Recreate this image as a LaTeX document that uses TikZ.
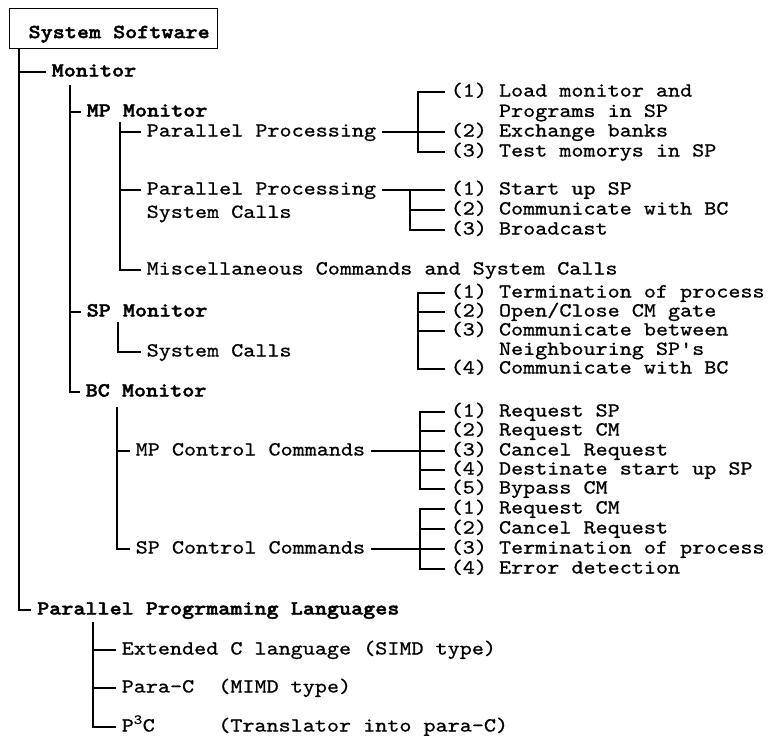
\documentclass[tikz,border=0pt]{standalone}
\usepackage{fontspec}
\setmonofont{lmmono10-regular}[Extension=.otf, BoldFont=lmmonolt10-bold, FakeStretch=1.15, UprightFeatures={FakeBold=0.8}, BoldFeatures={FakeBold=2}]
\usetikzlibrary{positioning}

\begin{document}
\begin{tikzpicture}[x=1pt, y=-1pt]
\tikzstyle{txt}=[anchor=west, inner xsep=6pt, inner ysep=0pt, text height=9pt, text depth=0pt, font=\ttfamily\fontsize{20}{20}\selectfont]
\tikzstyle{head}=[txt, font=\ttfamily\bfseries\fontsize{20}{20}\selectfont]
\tikzstyle{box}=[rectangle, draw=black, line width=1.3pt, inner sep=0pt, minimum width=208pt, text height=29.5pt, text depth=10.5pt, font=\ttfamily\bfseries\fontsize{20}{20}\selectfont]
\tikzstyle{line}=[line width=1.4pt]

\useasboundingbox (0,0) rectangle (771,736);

% 1. Tree nodes
%%%%%%%%%%%%%%%
\node[box, anchor=north west] (sys) at (9,8) {\hspace*{11pt}System Software};
\node[head] (mon) at (45.5,72) {Monitor};
\node[head] (mpm) at (80.5,112) {MP Monitor};
\node[txt] (pp) at (140.5,132) {Parallel Processing};
\node[txt] (ppsc) at (140.5,190) {Parallel Processing};
\node[txt] (ppsc2) [below=14pt of ppsc.south west, anchor=north west] {System Calls};
\node[txt] (misc) at (140.5,270) {Miscellaneous Commands and System Calls};
\node[head] (spm) at (80.5,312) {SP Monitor};
\node[txt] (spsc) at (140.5,352) {System Calls};
\node[head] (bcm) at (79.5,392) {BC Monitor};
\node[txt] (mpcc) at (129.5,451) {MP Control Commands};
\node[txt] (spcc) at (129.5,549) {SP Control Commands};
\node[head] (ppl) at (31,610) {Parallel Progrmaming Languages};
\node[txt] (ext) at (115.5,650) {Extended C language (SIMD type)};
\node[txt] (parac) at (115.5,688) {Para-C~~(MIMD type)};
\node[txt] (p3c) at (115.5,727) {\rlap{P\textsuperscript{3}C}\phantom{Para-C~~}(Translator into para-C)};

% 2. Item lists
%%%%%%%%%%%%%%%
\node[txt] (a1) at (444.5,92) {(1) Load monitor and};
\node[txt] (a1b) [below=11pt of a1.south west, anchor=north west] {\phantom{(1)~}Programs in SP};
\node[txt] (a2) at (444.5,132) {(2) Exchange banks};
\node[txt] (a3) at (444.5,152) {(3) Test momorys in SP};

\node[txt] (b1) at (444.5,190) {(1) Start up SP};
\node[txt] (b2) at (444.5,210) {(2) Communicate with BC};
\node[txt] (b3) at (444.5,230) {(3) Broadcast};

\node[txt] (c1) at (444.5,293) {(1) Termination of process};
\node[txt] (c2) at (444.5,312) {(2) Open/Close CM gate};
\node[txt] (c3) at (444.5,331) {(3) Communicate between};
\node[txt] (c3b) [below=10pt of c3.south west, anchor=north west] {\phantom{(3)~}Neighbouring SP's};
\node[txt] (c4) at (444.5,369) {(4) Communicate with BC};

\node[txt] (d1) at (444.5,412) {(1) Request SP};
\node[txt] (d2) at (444.5,431) {(2) Request CM};
\node[txt] (d3) at (444.5,451) {(3) Cancel Request};
\node[txt] (d4) at (444.5,470) {(4) Destinate start up SP};
\node[txt] (d5) at (444.5,489) {(5) Bypass CM};

\node[txt] (e1) at (444.5,509) {(1) Request CM};
\node[txt] (e2) at (444.5,529) {(2) Cancel Request};
\node[txt] (e3) at (444.5,549) {(3) Termination of process};
\node[txt] (e4) at (444.5,569) {(4) Error detection};

% 3. Rails
%%%%%%%%%%
\coordinate (rail0) at ([xshift=10pt]sys.south west);
\coordinate (rail1) at (70,85);
\coordinate (rail2) at (120,122);
\coordinate (rail3) at (118,322);
\coordinate (rail4) at (117,407);
\coordinate (rail5) at (93,622);
\coordinate (ba) at (418,0);
\coordinate (bb) at (410,0);
\coordinate (bc) at (418,0);
\coordinate (bd) at (420,0);
\coordinate (be) at (420,0);

% 4. Tree lines
%%%%%%%%%%%%%%%
\draw[line] (rail0) |- (ppl.west);
\draw[line] (mon.west -| rail0) -- (mon.west);
\draw[line] (rail1) |- (bcm.west);
\draw[line] (mpm.west -| rail1) -- (mpm.west);
\draw[line] (spm.west -| rail1) -- (spm.west);
\draw[line] (rail2) |- (misc.west);
\draw[line] (pp.west -| rail2) -- (pp.west);
\draw[line] (ppsc.west -| rail2) -- (ppsc.west);
\draw[line] (rail3) |- (spsc.west);
\draw[line] (rail4) |- (spcc.west);
\draw[line] (mpcc.west -| rail4) -- (mpcc.west);
\draw[line] (rail5) |- (p3c.west);
\draw[line] (ext.west -| rail5) -- (ext.west);
\draw[line] (parac.west -| rail5) -- (parac.west);

% 5. Brackets
%%%%%%%%%%%%%
\draw[line] (pp.east) -- (a2.west);
\draw[line] (a1.west) -- (a1.west -| ba) |- (a3.west);

\draw[line] (ppsc.east) -- (b1.west);
\draw[line] (b1.west -| bb) |- (b3.west);
\draw[line] (b2.west -| bb) -- (b2.west);

\draw[line] (c1.west) -- (c1.west -| bc) |- (c4.west);
\draw[line] (c2.west -| bc) -- (c2.west);
\draw[line] (c3.west -| bc) -- (c3.west);

\draw[line] (mpcc.east) -- (d3.west);
\draw[line] (d1.west) -- (d1.west -| bd) |- (d5.west);
\draw[line] (d2.west -| bd) -- (d2.west);
\draw[line] (d4.west -| bd) -- (d4.west);

\draw[line] (spcc.east) -- (e3.west);
\draw[line] (e1.west) -- (e1.west -| be) |- (e4.west);
\draw[line] (e2.west -| be) -- (e2.west);

\end{tikzpicture}
\end{document}
